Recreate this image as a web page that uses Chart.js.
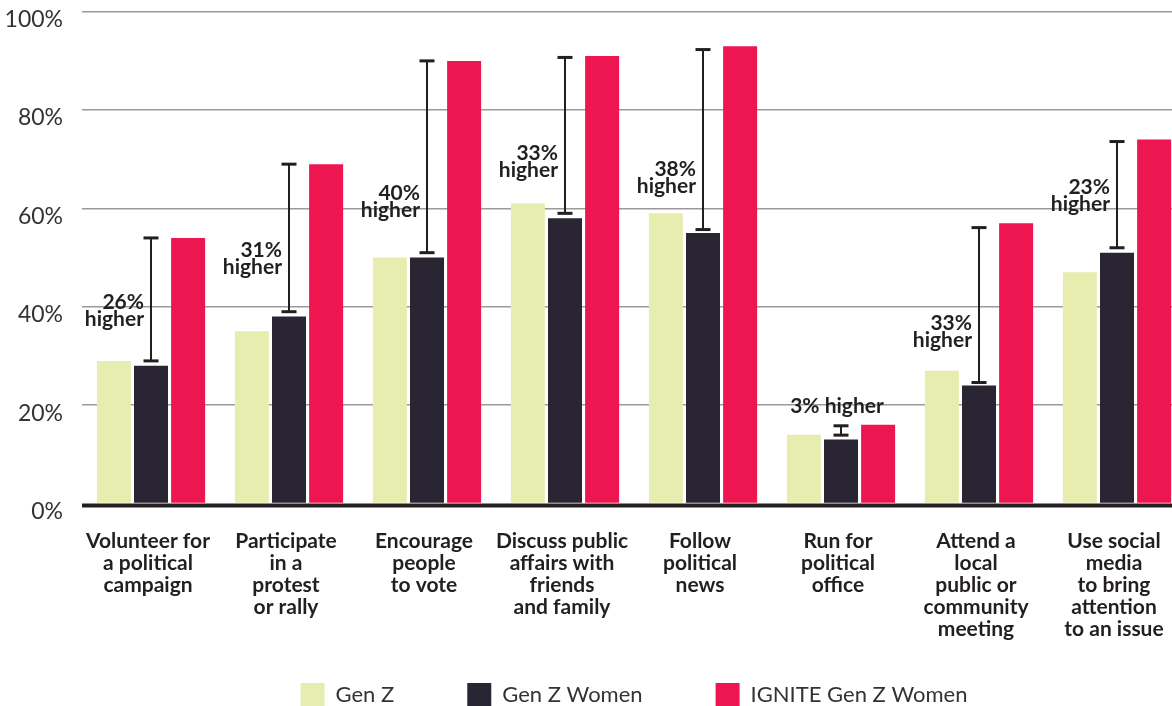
<!DOCTYPE html>
<html>
<head>
<meta charset="utf-8">
<script src="https://cdn.jsdelivr.net/npm/chart.js@4.4.1/dist/chart.umd.min.js"></script>
<style>
  html, body { margin: 0; padding: 0; overflow: hidden; background: #fff; }
  #wrap { width: 1190px; height: 717px; position: relative; }
</style>
</head>
<body>
<div id="wrap"><canvas id="chart"></canvas></div>
<script>
/* ===== Civic engagement: Gen Z vs IGNITE ===== */

const categories = [
  ['Volunteer for', 'a political', 'campaign'],
  ['Participate', 'in a', 'protest', 'or rally'],
  ['Encourage', 'people', 'to vote'],
  ['Discuss public', 'affairs with', 'friends', 'and family'],
  ['Follow', 'political', 'news'],
  ['Run for', 'political', 'office'],
  ['Attend a', 'local', 'public or', 'community', 'meeting'],
  ['Use social', 'media', 'to bring', 'attention', 'to an issue']
];

const genZ        = [29, 35, 50, 61, 59, 14, 27, 47];
const genZWomen   = [28, 38, 50, 58, 55, 13, 24, 51];
const igniteWomen = [54, 69, 90, 91, 93, 16, 57, 74];

// "x% higher" brackets, from the Gen Z Women bar up to IGNITE
const gapLow     = [29, 39, 51, 59, 55.7, 13.9, 24.6, 52];
const gapHigh    = [54, 69, 90, 90.7, 92.3, 15.8, 56.1, 73.6];
const gapLabelAt = [39.2, 49.8, 61.3, 69.4, 66.3, 19.7, 35, 62.5];
const gapLabels  = [
  ['26%', 'higher'], ['31%', 'higher'], ['40%', 'higher'], ['33%', 'higher'],
  ['38%', 'higher'], ['3% higher'], ['33%', 'higher'], ['23%', 'higher']
];

const yTicks = [0, 20, 40, 60, 80, 100];

const INK = '#231f20';
const COLORS = { genz: '#e6edaf', women: '#2a2533', ignite: '#ee1651' };

const gapPlugin = {
  id: 'gapBars',
  afterLayout(chart) {
    // x labels are clipped to the axis box; let them run down over the legend gap
    chart.scales.x.bottom = chart.height;
  },
  afterDatasetsDraw(chart) {
    const { ctx, chartArea, scales: { y } } = chart;
    const bars = chart.getDatasetMeta(1).data;
    ctx.save();
    ctx.fillStyle = INK;

    // thick baseline just under the bars
    const y0 = y.getPixelForValue(0);
    ctx.fillRect(chartArea.left, y0, chartArea.right - chartArea.left, 4);

    ctx.font = 'bold 21px Lato';
    ctx.textBaseline = 'middle';
    bars.forEach((bar, i) => {
      const x = bar.x;
      const top = y.getPixelForValue(gapHigh[i]);
      const bot = y.getPixelForValue(gapLow[i]);
      ctx.fillRect(x - 1, top, 2, bot - top);
      ctx.fillRect(x - 7.5, top - 1.5, 15, 3);
      ctx.fillRect(x - 7.5, bot - 1.5, 15, 3);

      const ly = y.getPixelForValue(gapLabelAt[i]);
      const lines = gapLabels[i];
      if (lines.length === 1) {
        ctx.textAlign = 'center';
        ctx.fillText(lines[0], x - 4, ly);
      } else {
        ctx.textAlign = 'right';
        lines.forEach((t, k) => ctx.fillText(t, x - 7, ly + (k - 0.5) * 17));
      }
    });
    ctx.restore();
  }
};

const barStyle = { borderWidth: 0, categoryPercentage: 0.807, barPercentage: 0.916 };

new Chart(document.getElementById('chart').getContext('2d'), {
  type: 'bar',
  data: {
    labels: categories,
    datasets: [
      { label: 'Gen Z', data: genZ, backgroundColor: COLORS.genz, ...barStyle },
      { label: 'Gen Z Women', data: genZWomen, backgroundColor: COLORS.women, ...barStyle },
      { label: 'IGNITE Gen Z Women', data: igniteWomen, backgroundColor: COLORS.ignite, ...barStyle }
    ]
  },
  options: {
    responsive: true,
    maintainAspectRatio: false,
    animation: false,
    layout: { padding: { top: 11.7, right: 4, bottom: 0, left: 0 } },
    plugins: {
      tooltip: { enabled: false },
      legend: {
        position: 'bottom',
        fullSize: false,
        labels: {
          boxWidth: 24,
          boxHeight: 24,
          padding: 73,
          color: '#333',
          font: { family: 'Lato', size: 22 }
        }
      }
    },
    scales: {
      x: {
        grid: { display: false, drawTicks: false },
        border: { display: false },
        ticks: {
          autoSkip: false,
          maxRotation: 0,
          padding: 27,
          labelOffset: -3,
          color: INK,
          font: { family: 'Lato', size: 21, weight: 'bold', lineHeight: 1.05 }
        },
        afterFit(scale) {
          scale.height = 106.5;
          scale.paddingLeft = 0;
          scale.paddingRight = 0;
        }
      },
      y: {
        min: 0,
        max: 100,
        afterBuildTicks(scale) { scale.ticks = yTicks.map(v => ({ value: v })); },
        grid: {
          drawTicks: false,
          color: ctx => ctx.tick && ctx.tick.value === 0 ? 'rgba(0,0,0,0)' : '#9a9a9a',
          lineWidth: 1.5
        },
        border: { display: false },
        ticks: {
          padding: 19,
          labelOffset: 8,
          color: '#333',
          font: { family: 'Lato', size: 23 },
          callback: v => v + '%'
        },
        afterFit(scale) {
          scale.width = 82;
          scale.paddingTop = 0;
          scale.paddingBottom = 0;
        }
      }
    }
  },
  plugins: [gapPlugin]
});
</script>
</body>
</html>
